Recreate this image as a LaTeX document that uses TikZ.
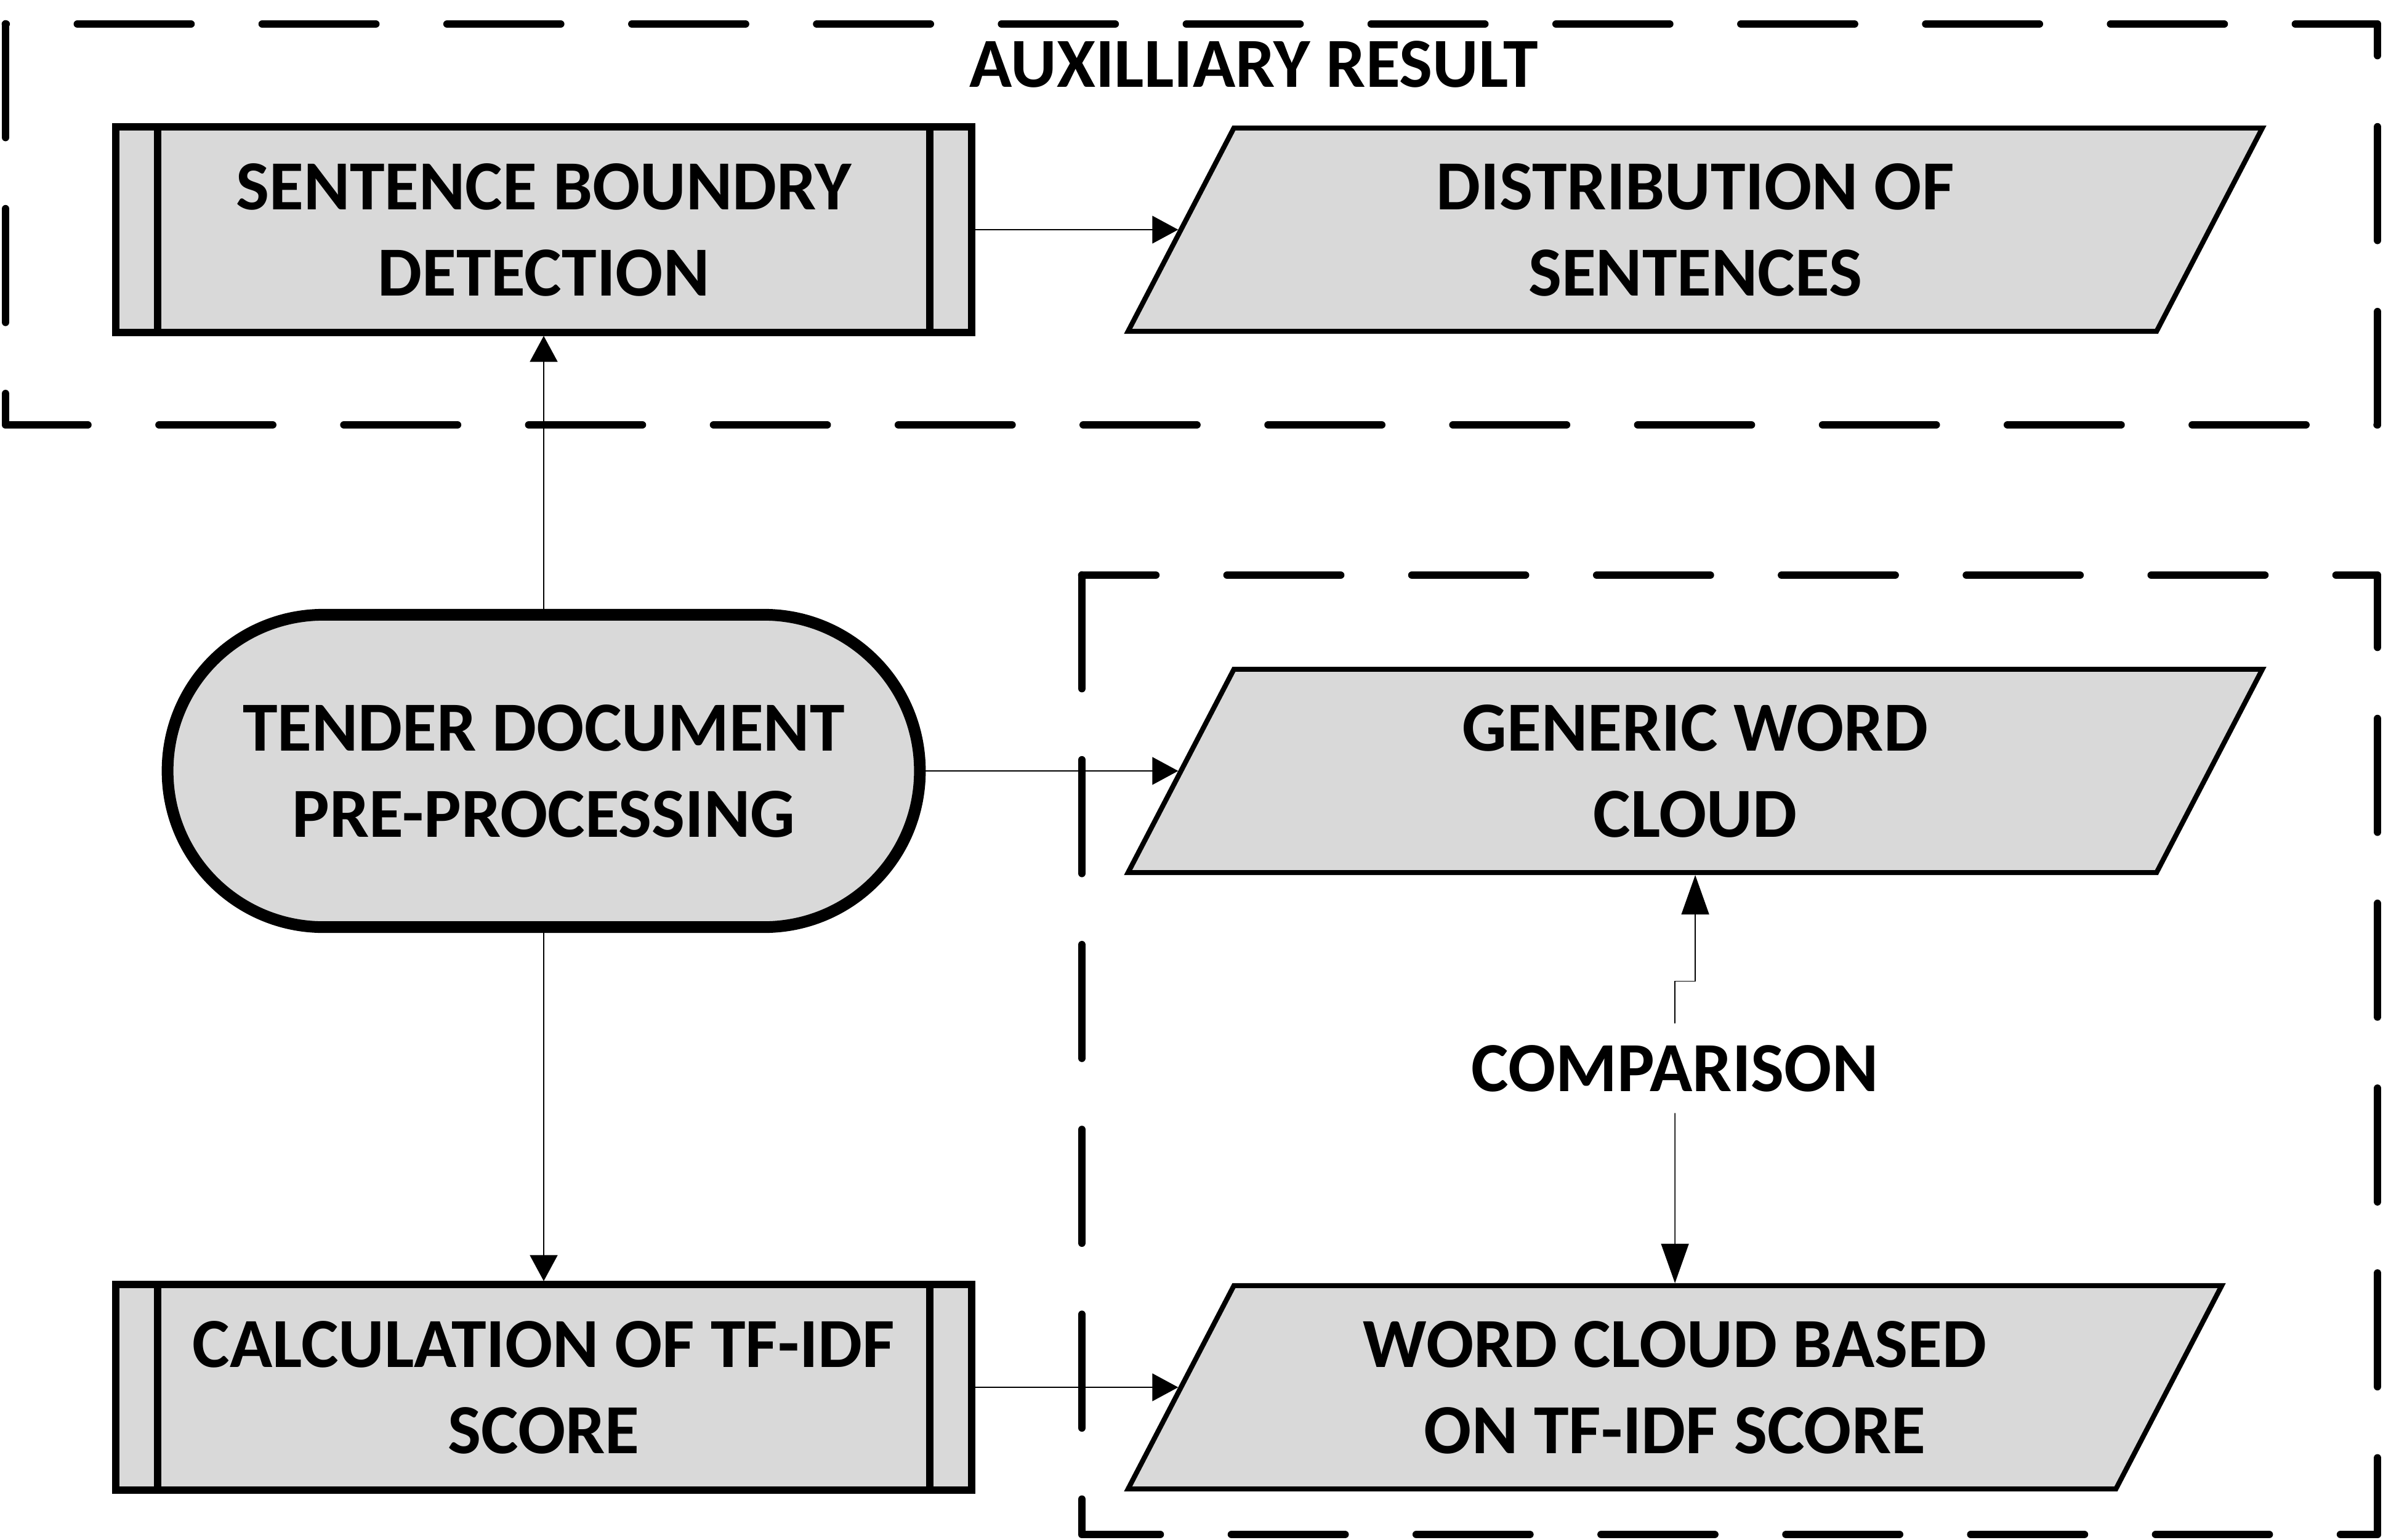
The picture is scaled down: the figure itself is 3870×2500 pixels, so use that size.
\documentclass[tikz,border=0pt]{standalone}
\usepackage{fontspec}
\setmainfont{Carlito}
\usetikzlibrary{shapes.geometric,arrows.meta}
\definecolor{boxgray}{RGB}{217,217,217}
\tikzset{
  lbl/.style={font=\fontsize{32.5}{39.8}\selectfont\bfseries, align=center},
  procbox/.style={lbl, draw, fill=boxgray, line width=3.4pt, minimum width=13.89cm, minimum height=3.33cm},
  iobox/.style={lbl, trapezium, draw, fill=boxgray, line width=2.3pt, trapezium left angle=54.3,
    trapezium right angle=125.7, trapezium stretches body, minimum height=3.3cm},
  termbox/.style={lbl, draw, fill=boxgray, line width=5.4pt, rounded corners=2.53cm,
    minimum width=12.21cm, minimum height=5.07cm},
  dashframe/.style={line width=3.6pt, line cap=round, line join=round, dash pattern=on 1.84cm off 1.16cm},
  arr/.style={line width=0.45pt, -{Triangle[length=0.42cm,width=0.45cm]}},
  longarr/.style={line width=0.45pt, -{Triangle[length=0.64cm,width=0.45cm]}},
}
\begin{document}
\begin{tikzpicture}[x=0.01cm,y=-0.01cm]
\useasboundingbox (0,0) rectangle (3870,2500);
\draw[dashframe] (9,39) -- (9,690) -- (3861,690) -- (3861,39) -- cycle;
\draw[dashframe] (1757,934) -- (1757,2492) -- (3861,2492) -- (3861,934) -- cycle;
\node[lbl] (aux) at (2036,104) {AUXILLIARY RESULT};
\node[procbox] (sbd) at (883,373) {SENTENCE BOUNDRY\\DETECTION};
\node[iobox, minimum width=18.41cm] (dist) at (2753,373) {DISTRIBUTION OF\\SENTENCES};
\node[termbox] (tdp) at (883,1252) {TENDER DOCUMENT\\PRE-PROCESSING};
\node[iobox, minimum width=18.41cm] (gwc) at (2753,1252) {GENERIC WORD\\CLOUD};
\node[lbl, inner ysep=0.34cm] (cmp) at (2720,1735) {COMPARISON};
\node[procbox] (tfidf) at (883,2253) {CALCULATION OF TF-IDF\\SCORE};
\node[iobox, minimum width=17.75cm] (wcb) at (2720,2253) {WORD CLOUD BASED\\ON TF-IDF SCORE};
\foreach \n in {sbd,tfidf}
  \draw[line width=3.4pt] ([xshift=0.74cm]\n.north west) -- ([xshift=0.74cm]\n.south west)
                          ([xshift=-0.74cm]\n.north east) -- ([xshift=-0.74cm]\n.south east);
\draw[arr] (tdp.north) -- (sbd.south);
\draw[arr] (tdp.south) -- (tfidf.north);
\draw[arr] (sbd.east) -- (dist.left side);
\draw[arr] (tdp.east) -- (gwc.left side);
\draw[arr] (tfidf.east) -- (wcb.left side);
\draw[longarr] (cmp.north) -- ++(0,-69) -| (gwc.south);
\draw[longarr] (cmp.south) -- (wcb.north);
\end{tikzpicture}
\end{document}
